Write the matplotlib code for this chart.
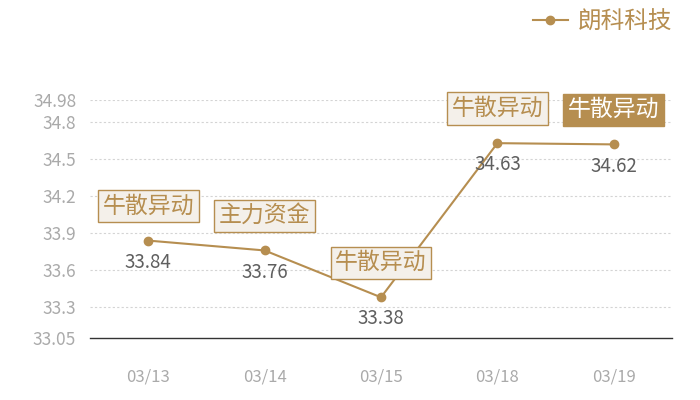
import matplotlib
matplotlib.use('Agg')
import matplotlib.pyplot as plt
from matplotlib.lines import Line2D

plt.rcParams['font.family'] = ['Noto Sans CJK SC', 'DejaVu Sans']

# data
dates = ['03/13', '03/14', '03/15', '03/18', '03/19']
prices = [33.84, 33.76, 33.38, 34.63, 34.62]
tags = ['牛散异动', '主力资金', '牛散异动', '牛散异动', '牛散异动']
yticks = [33.05, 33.3, 33.6, 33.9, 34.2, 34.5, 34.8, 34.98]
series_name = '朗科科技'

gold = '#b68e50'
box_fill = '#f4f0ea'

fig = plt.figure(figsize=(7, 4), dpi=100)
ax = fig.add_axes([90 / 700, 1 - 338 / 400, 582 / 700, 238 / 400])

x = list(range(len(dates)))
ax.plot(x, prices, color=gold, lw=1.5, marker='o', ms=6, zorder=3)

for i, (p, t) in enumerate(zip(prices, tags)):
    ax.annotate(f'{p:.2f}', (i, p), xytext=(0, -8), textcoords='offset points',
                ha='center', va='top', fontsize=13.5, color='#5f5f5f', zorder=4)
    last = i == len(prices) - 1
    ax.annotate(t, (i, p), xytext=(0, 25), textcoords='offset points',
                ha='center', va='center', fontsize=16.5,
                color='white' if last else gold, zorder=5,
                bbox=dict(boxstyle='square,pad=0.2', fc=gold if last else box_fill,
                          ec=gold, lw=1))

ax.set_xlim(-0.5, len(dates) - 0.5)
ax.set_ylim(yticks[0], yticks[-1])
ax.set_xticks(x)
ax.set_xticklabels(dates)
ax.set_yticks(yticks)
ax.set_yticklabels([f'{v:g}' for v in yticks])
ax.tick_params(axis='both', length=0, colors='#aaaaaa', labelsize=12.5)
ax.tick_params(axis='x', pad=22, labelsize=12)
ax.tick_params(axis='y', pad=10)
for v in yticks[1:]:
    ax.axhline(v, color='#d4d4d4', lw=0.8, ls=(0, (2, 2)), zorder=1)
for s in ['top', 'right', 'left']:
    ax.spines[s].set_visible(False)
ax.spines['bottom'].set_color('#333333')
ax.spines['bottom'].set_linewidth(1)

handle = Line2D([], [], color=gold, lw=1.5, marker='o', ms=6)
fig.legend([handle], [series_name], loc='upper right', bbox_to_anchor=(0.975, 1.0),
           frameon=False, fontsize=17, labelcolor=gold, handlelength=1.5,
           handletextpad=0.4, borderaxespad=0.05)

fig.savefig('out.png', dpi=100)
